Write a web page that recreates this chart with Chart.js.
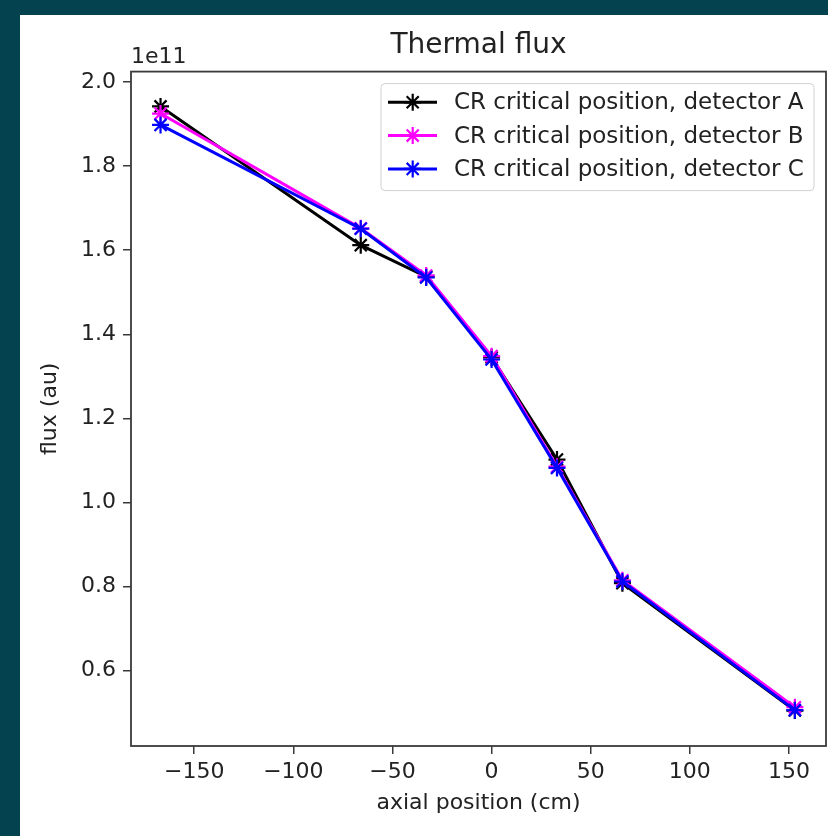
<!DOCTYPE html>
<html><head><meta charset="utf-8">
<script src="https://cdn.jsdelivr.net/npm/chart.js@4/dist/chart.umd.min.js"></script>
<style>
html,body{margin:0;padding:0;background:#05424f;width:828px;height:836px;overflow:hidden}
#wrap{position:absolute;left:20px;top:15px;width:808px;height:821px;background:#fff}
canvas{display:block}
</style></head><body>
<div id="wrap"><canvas id="c" width="808" height="821"></canvas></div>
<script>
// ---- data (flux in units of 1e11) ----
const axialPositions = [-167, -66, -33, 0, 33, 66, 153];
const detectorA = [1.942, 1.612, 1.537, 1.345, 1.102, 0.808, 0.505];
const detectorB = [1.925, 1.652, 1.540, 1.348, 1.085, 0.815, 0.513];
const detectorC = [1.898, 1.651, 1.535, 1.340, 1.082, 0.812, 0.506];
const seriesLabels = ['CR critical position, detector A', 'CR critical position, detector B', 'CR critical position, detector C'];
const xTicks = [-150, -100, -50, 0, 50, 100, 150];
const yTicks = [0.6, 0.8, 1.0, 1.2, 1.4, 1.6, 1.8, 2.0];
const yOffsetLabel = '1e11';
const chartTitle = 'Thermal flux';
const xTitle = 'axial position (cm)';
const yTitle = 'flux (au)';

const FONT = '"DejaVu Sans", sans-serif';
const TXT = '#222';
const AX = '#3a3a3a';

const toXY = ys => axialPositions.map((x, i) => ({x, y: ys[i]}));

function drawStar(ctx, x, y, r) {
  ctx.beginPath();
  for (let k = 0; k < 4; k++) {
    const a = k * Math.PI / 4;
    ctx.moveTo(x - r * Math.cos(a), y - r * Math.sin(a));
    ctx.lineTo(x + r * Math.cos(a), y + r * Math.sin(a));
  }
  ctx.stroke();
}

const framePlugin = {
  id: 'frame',
  afterDraw(chart) {
    const {ctx, chartArea: a} = chart;
    ctx.save();
    ctx.strokeStyle = AX; ctx.lineWidth = 1.8;
    ctx.strokeRect(a.left, a.top, a.right - a.left, a.bottom - a.top);
    ctx.fillStyle = TXT; ctx.font = '22px ' + FONT;
    ctx.textBaseline = 'bottom'; ctx.textAlign = 'left';
    ctx.fillText(yOffsetLabel, a.left, a.top - 3);
    ctx.restore();
  }
};

const legendPlugin = {
  id: 'mplLegend',
  afterDatasetsDraw(chart) {
    const {ctx, chartArea: a} = chart;
    const w = 433, h = 107;
    const x0 = a.right - 12 - w, y0 = a.top + 12;
    ctx.save();
    ctx.beginPath();
    if (ctx.roundRect) ctx.roundRect(x0, y0, w, h, 4); else ctx.rect(x0, y0, w, h);
    ctx.fillStyle = 'rgba(255,255,255,0.8)'; ctx.fill();
    ctx.strokeStyle = '#d0d0d0'; ctx.lineWidth = 1; ctx.stroke();
    chart.data.datasets.forEach((ds, i) => {
      const cy = y0 + 18.7 + i * 33.3;
      ctx.strokeStyle = ds.borderColor; ctx.lineWidth = ds.borderWidth;
      ctx.beginPath(); ctx.moveTo(x0 + 7, cy); ctx.lineTo(x0 + 56, cy); ctx.stroke();
      ctx.lineWidth = 2.2;
      drawStar(ctx, x0 + 31.7, cy, 8.5);
      ctx.fillStyle = TXT; ctx.font = '23px ' + FONT;
      ctx.textBaseline = 'middle'; ctx.textAlign = 'left';
      ctx.fillText(ds.label, x0 + 73, cy + 1);
    });
    ctx.restore();
  }
};

const mk = (label, ys, color, order) => ({
  label, data: toXY(ys), borderColor: color, backgroundColor: color,
  borderWidth: 3, pointStyle: 'star', pointRadius: 8.5, pointBorderWidth: 2.2,
  pointBorderColor: color, tension: 0, order, fill: false
});

new Chart(document.getElementById('c'), {
  type: 'line',
  data: {
    datasets: [
      mk(seriesLabels[0], detectorA, '#000000', 2),
      mk(seriesLabels[1], detectorB, '#ff00ff', 1),
      mk(seriesLabels[2], detectorC, '#0000ff', 0)
    ]
  },
  options: {
    responsive: false, animation: false, devicePixelRatio: 1,
    layout: {autoPadding: false, padding: {left: 0, right: 2, top: 0, bottom: 0}},
    plugins: {
      legend: {display: false}, tooltip: {enabled: false},
      title: {display: true, fullSize: false, text: chartTitle, color: TXT,
        font: {family: FONT, size: 28, weight: 'normal'}, padding: {top: 14, bottom: 9}}
    },
    scales: {
      x: {
        type: 'linear', min: -181.9, max: 168.7,
        afterBuildTicks: s => { s.ticks = xTicks.map(v => ({value: v})); },
        afterFit: s => { s.height = 90; s.paddingLeft = 0; s.paddingRight = 0; },
        grid: {display: true, drawOnChartArea: false, drawTicks: true, tickLength: 8, color: AX, lineWidth: 1.5},
        border: {display: false},
        ticks: {color: TXT, font: {family: FONT, size: 22}, padding: 5, maxRotation: 0,
          callback: v => (v < 0 ? '\u2212' + Math.abs(v) : String(v))},
        title: {display: true, text: xTitle, color: TXT, font: {family: FONT, size: 22}, padding: {bottom: 20, top: 0}}
      },
      y: {
        type: 'linear', min: 0.4207, max: 2.0248,
        afterBuildTicks: s => { s.ticks = yTicks.map(v => ({value: v})); },
        afterFit: s => { s.width = 111; s.paddingTop = 0; s.paddingBottom = 0; },
        grid: {display: true, drawOnChartArea: false, drawTicks: true, tickLength: 8, color: AX, lineWidth: 1.5},
        border: {display: false},
        ticks: {color: TXT, font: {family: FONT, size: 22}, padding: 7,
          callback: v => v.toFixed(1)},
        title: {display: true, text: yTitle, color: TXT, font: {family: FONT, size: 22}, padding: {top: 17, bottom: 0}}
      }
    }
  },
  plugins: [legendPlugin, framePlugin]
});
</script>
</body></html>
